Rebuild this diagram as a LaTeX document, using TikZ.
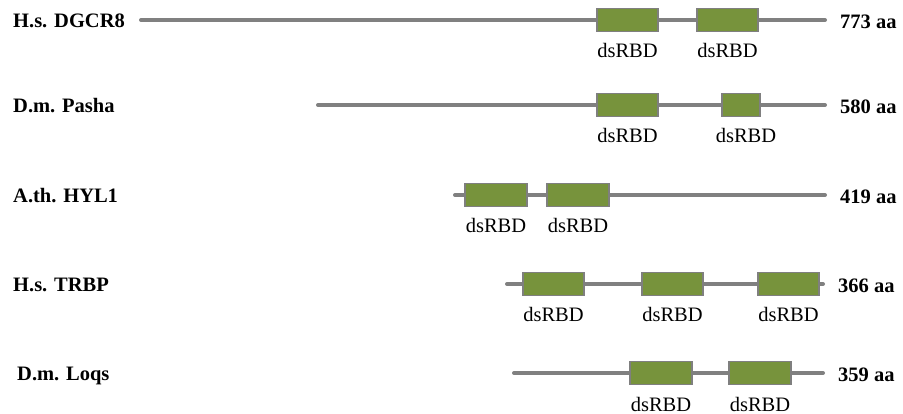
\documentclass[tikz,border=0pt]{standalone}
\usepackage{fontspec}
\setmainfont{Liberation Serif}
\definecolor{linegray}{HTML}{808080}
\definecolor{boxborder}{HTML}{7F7F7F}
\definecolor{boxgreen}{HTML}{77933C}
\tikzset{
  backbone/.style={draw=linegray, line width=4pt, line cap=round},
  domainbox/.style={rectangle, draw=boxborder, fill=boxgreen, line width=1.3pt, minimum height=23pt, inner sep=0pt},
  domtext/.style={anchor=base, inner sep=0pt, font=\fontsize{20.5}{24}\selectfont},
  protlabel/.style={anchor=base west, inner sep=0pt, font=\fontsize{20.5}{24}\selectfont\bfseries},
  aalabel/.style={anchor=base west, inner sep=0pt, font=\fontsize{20.5}{24}\selectfont\bfseries},
}
\begin{document}
\begin{tikzpicture}[x=1pt,y=-1pt]
\useasboundingbox (0,0) rectangle (903,414);
% ---------- Row 1: H.s. DGCR8 ----------
\coordinate (r1s) at (141,20); \coordinate (r1e) at (825,20);
\draw[backbone] (r1s) -- (r1e);
\node[domainbox, minimum width=61pt] (r1d1) at (627.5,20) {};
\node[domainbox, minimum width=61pt] (r1d2) at (727.5,20) {};
\node[domtext] (r1t1) at (627.5,58) {dsRBD};
\node[domtext] (r1t2) at (727.5,58) {dsRBD};
\node[protlabel] (r1n) at (13,27.5) {H.s. DGCR8};
\node[aalabel] (r1a) at (840,28.5) {773 aa};
% ---------- Row 2: D.m. Pasha ----------
\coordinate (r2s) at (318,105); \coordinate (r2e) at (825,105);
\draw[backbone] (r2s) -- (r2e);
\node[domainbox, minimum width=61pt] (r2d1) at (627.5,105) {};
\node[domainbox, minimum width=38pt] (r2d2) at (741,105) {};
\node[domtext] (r2t1) at (627.5,143) {dsRBD};
\node[domtext] (r2t2) at (746,143) {dsRBD};
\node[protlabel] (r2n) at (13,112.5) {D.m. Pasha};
\node[aalabel] (r2a) at (840,113.5) {580 aa};
% ---------- Row 3: A.th. HYL1 ----------
\coordinate (r3s) at (455,195); \coordinate (r3e) at (825,195);
\draw[backbone] (r3s) -- (r3e);
\node[domainbox, minimum width=62pt] (r3d1) at (496,195) {};
\node[domainbox, minimum width=62pt] (r3d2) at (578,195) {};
\node[domtext] (r3t1) at (496,233) {dsRBD};
\node[domtext] (r3t2) at (578,233) {dsRBD};
\node[protlabel] (r3n) at (13,202.5) {A.th. HYL1};
\node[aalabel] (r3a) at (840,203.5) {419 aa};
% ---------- Row 4: H.s. TRBP ----------
\coordinate (r4s) at (507,284); \coordinate (r4e) at (823,284);
\draw[backbone] (r4s) -- (r4e);
\node[domainbox, minimum width=61pt] (r4d1) at (553.5,284) {};
\node[domainbox, minimum width=61pt] (r4d2) at (672.5,284) {};
\node[domainbox, minimum width=61pt] (r4d3) at (788.5,284) {};
\node[domtext] (r4t1) at (553.5,322) {dsRBD};
\node[domtext] (r4t2) at (672.5,322) {dsRBD};
\node[domtext] (r4t3) at (788.5,322) {dsRBD};
\node[protlabel] (r4n) at (13,291.5) {H.s. TRBP};
\node[aalabel] (r4a) at (838,292.5) {366 aa};
% ---------- Row 5: D.m. Loqs ----------
\coordinate (r5s) at (514,373); \coordinate (r5e) at (823,373);
\draw[backbone] (r5s) -- (r5e);
\node[domainbox, minimum width=62pt] (r5d1) at (661,373) {};
\node[domainbox, minimum width=62pt] (r5d2) at (760,373) {};
\node[domtext] (r5t1) at (661,411) {dsRBD};
\node[domtext] (r5t2) at (760,411) {dsRBD};
\node[protlabel] (r5n) at (17,380.5) {D.m. Loqs};
\node[aalabel] (r5a) at (838,381.5) {359 aa};
\end{tikzpicture}
\end{document}
